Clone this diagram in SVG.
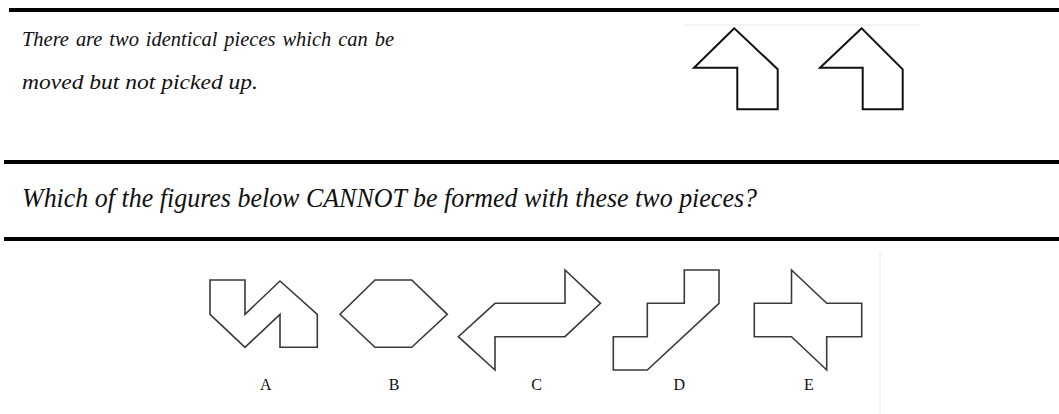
<svg xmlns="http://www.w3.org/2000/svg" width="1059" height="414" viewBox="0 0 1059 414">
<style>
.rule{stroke:#000;stroke-width:4}
.faint{stroke:#e8e8e8;stroke-width:1}
.txt{font-family:"Liberation Serif","Times New Roman",serif;font-style:italic;fill:#111}
.piece{fill:none;stroke:#111;stroke-width:2;stroke-linejoin:miter}
.fig{fill:none;stroke:#3a3a3a;stroke-width:1.6;stroke-linejoin:miter}
.lbl{font-family:"Liberation Serif","Times New Roman",serif;font-size:16px;fill:#111;text-anchor:middle}
</style>
<rect width="1059" height="414" fill="#fff"/>
<g id="rules">
<line class="rule" x1="9" y1="10" x2="1059" y2="10"/>
<line class="rule" x1="4" y1="162" x2="1059" y2="162"/>
<line class="rule" x1="4" y1="239" x2="1059" y2="239"/>
<line class="faint" x1="685" y1="25" x2="920" y2="25"/>
<line class="faint" x1="880" y1="252" x2="880" y2="414"/>
</g>
<g id="texts">
<text class="txt" x="22" y="46" font-size="22" word-spacing="2" textLength="372" lengthAdjust="spacingAndGlyphs">There are two identical pieces which can be</text>
<text class="txt" x="22" y="89" font-size="22" textLength="236" lengthAdjust="spacingAndGlyphs">moved but not picked up.</text>
<text class="txt" x="22" y="207" font-size="27" textLength="735" lengthAdjust="spacingAndGlyphs">Which of the figures below CANNOT be formed with these two pieces?</text>
</g>
<g id="piece1"><polygon class="piece" points="734.3,28.3 694,67.7 737.3,67.7 737.3,109.3 777.7,109.3 777.7,69.3"/></g>
<g id="piece2"><polygon class="piece" points="861.7,28.3 820,67.7 862.7,67.7 862.7,109.3 902.7,109.3 902.7,69.3"/></g>
<g id="figA"><polygon class="fig" points="210,280 245,280 245,314.3 280,281 317.3,314.3 317.3,347.3 280,347.3 280,314.3 245,347.3 210,314.3"/><text class="lbl" x="265.7" y="390">A</text></g>
<g id="figB"><polygon class="fig" points="375,280 411.7,280 447.3,314.3 411.7,347.3 375,347.3 340,314.3"/><text class="lbl" x="394" y="390">B</text></g>
<g id="figC"><polygon class="fig" points="565,270 600.5,303.3 565,336.7 495,336.7 495,370 458.3,336.7 495,303.3 565,303.3"/><text class="lbl" x="536.7" y="390">C</text></g>
<g id="figD"><polygon class="fig" points="613.3,336.7 647.3,336.7 647.3,303.3 684.3,303.3 684.3,270 719,270 719,303.3 647.3,370 613.3,370"/><text class="lbl" x="679.3" y="390">D</text></g>
<g id="figE"><polygon class="fig" points="791.5,270 826.7,303.3 861.7,303.3 861.7,336.7 826.7,336.7 826.7,370 791.5,336.7 754.3,336.7 754.3,303.3 791.5,303.3"/><text class="lbl" x="809" y="390">E</text></g>
</svg>
